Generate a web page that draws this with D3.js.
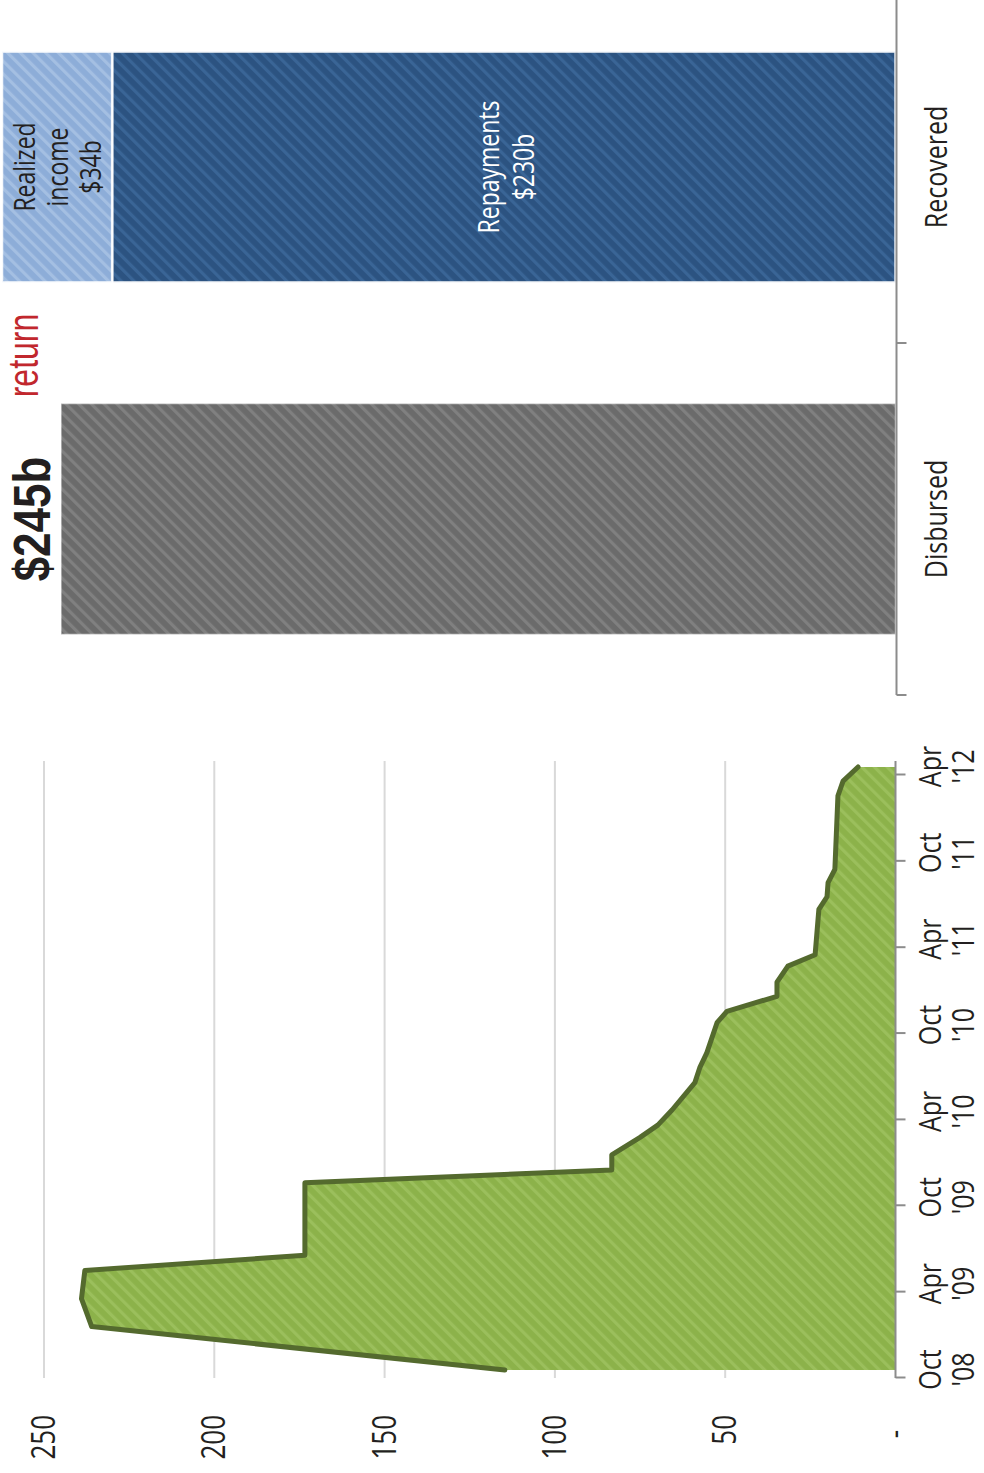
<!DOCTYPE html>
<html>
<head>
<meta charset="utf-8">
<script src="https://cdn.jsdelivr.net/npm/d3@7"></script>
<style>
  body { margin: 0; background: #fff; }
  svg { display: block; }
  text { font-family: "Open Sans", "Noto Sans", sans-serif; fill: #231f20; }
  text.headline { font-family: "Liberation Sans", Arial, sans-serif; }
</style>
</head>
<body>
<svg width="984" height="1473"></svg>
<script>
// --- data ---
var outstandingDates = ["2008-10-18", "2009-01-18", "2009-03-18", "2009-05-17", "2009-06-18",
  "2009-11-19", "2009-12-16", "2010-01-17", "2010-02-23", "2010-03-21", "2010-04-22",
  "2010-06-19", "2010-07-22", "2010-08-21", "2010-10-24", "2010-11-17", "2010-12-19",
  "2011-01-18", "2011-02-21", "2011-03-17", "2011-06-21", "2011-07-18", "2011-08-17",
  "2011-09-14", "2012-02-17", "2012-03-19", "2012-04-18"];
var outstandingValues = [114.7, 236.0, 239.0, 238.0, 173.4,
  173.4, 83.3, 83.3, 75.0, 69.8, 65.6,
  58.9, 57.4, 55.4, 52.4, 49.5, 34.8,
  34.8, 31.6, 23.6, 22.5, 20.1, 19.8,
  17.8, 16.9, 15.4, 11.0];

var timeTicks = ["2008-10-01", "2009-04-01", "2009-10-01", "2010-04-01", "2010-10-01", "2011-04-01", "2011-10-01", "2012-04-01"];
var timeTickLabels = [["Oct", "'08"], ["Apr", "'09"], ["Oct", "'09"], ["Apr", "'10"], ["Oct", "'10"], ["Apr", "'11"], ["Oct", "'11"], ["Apr", "'12"]];

var valueTicks = [0, 50, 100, 150, 200, 250];
var valueTickLabels = ["-", "50", "100", "150", "200", "250"];

var categories = ["Disbursed", "Recovered"];
var disbursedValue = 245;
var recoveredSeries = ["Repayments", "Realized income"];
var recoveredValues = [230, 34];
var recoveredLabels = [["Repayments", "$230b"], ["Realized", "income", "$34b"]];

var parse = d3.timeParse("%Y-%m-%d");
var S = 1.25; // text is stretched across its baseline in the picture

var svg = d3.select("svg");

// patterns (diagonal stripes)
var defs = svg.append("defs");
function hatch(id, base, stripe) {
  var p = defs.append("pattern").attr("id", id)
    .attr("patternUnits", "userSpaceOnUse")
    .attr("width", 9).attr("height", 9)
    .attr("patternTransform", "rotate(45)");
  p.append("rect").attr("width", 9).attr("height", 9).attr("fill", base);
  p.append("rect").attr("width", 3.2).attr("height", 9).attr("fill", stripe);
}
hatch("hGreen", "#8cb24a", "#9bbf5c");
hatch("hDark", "#2c5381", "#3a6596");
hatch("hLight", "#8dadd8", "#a4bfe2");
hatch("hGray", "#6b6b6b", "#808080");

// whole chart drawn in its own frame, turned a quarter to the left
var g = svg.append("g").attr("transform", "translate(0,1473) rotate(-90)");

var y = d3.scaleLinear().domain([0, 250]).range([895.5, 44]);
var xT = d3.scaleTime().domain([parse("2008-10-01"), parse("2012-04-01")]).range([95, 698]);
var xC = d3.scaleBand().domain(categories).range([778, 1482]).padding(0);
var plotRight = 712;

// --- left: outstanding over time ---
g.append("g").selectAll("line")
  .data(valueTicks.filter(function(d) { return d > 0; }))
  .enter().append("line")
  .attr("x1", xT.range()[0]).attr("x2", plotRight)
  .attr("y1", function(d) { return y(d); }).attr("y2", function(d) { return y(d); })
  .attr("stroke", "#d9d9d9").attr("stroke-width", 2);

var series = outstandingDates.map(function(d, i) { return {date: parse(d), value: outstandingValues[i]}; });

var area = d3.area()
  .x(function(d) { return xT(d.date); })
  .y0(y(0))
  .y1(function(d) { return y(d.value); });
var line = d3.line()
  .x(function(d) { return xT(d.date); })
  .y(function(d) { return y(d.value); });

g.append("path").datum(series).attr("d", area).attr("fill", "url(#hGreen)");
g.append("path").datum(series).attr("d", line)
  .attr("fill", "none").attr("stroke", "#546a2e").attr("stroke-width", 5)
  .attr("stroke-linejoin", "round").attr("stroke-linecap", "round");

// time axis
var tAxis = g.append("g").attr("transform", "translate(0," + y(0) + ")")
  .call(d3.axisBottom(xT).tickValues(timeTicks.map(parse)).tickSize(10).tickSizeOuter(0));
tAxis.select(".domain").remove();
tAxis.append("line").attr("x1", xT.range()[0]).attr("x2", plotRight)
  .attr("stroke", "#8c8c8c").attr("stroke-width", 2);
tAxis.selectAll(".tick line").attr("stroke", "#8c8c8c").attr("stroke-width", 2);
tAxis.selectAll(".tick text").each(function(d, i) {
  var t = d3.select(this).text(null)
    .attr("y", 36.5).attr("dy", null)
    .attr("transform", "scale(1," + S + ")")
    .style("font-size", "25px").style("fill", "#231f20");
  timeTickLabels[i].forEach(function(s, k) {
    t.append("tspan").attr("x", 8).attr("dy", k === 0 ? 0 : 26.5).text(s);
  });
});

// value axis labels
var vAxis = g.append("g").attr("transform", "translate(58,0)")
  .call(d3.axisLeft(y).tickValues(valueTicks).tickSize(0).tickPadding(0)
    .tickFormat(function(d, i) { return valueTickLabels[i]; }));
vAxis.select(".domain").remove();
vAxis.selectAll(".tick text")
  .attr("transform", "scale(1," + S + ")")
  .attr("dx", function(d) { return d === 0 ? -15 : 0; })
  .style("font-size", "26px").style("fill", "#231f20");

// --- right: disbursed vs recovered ---
var bw = xC.bandwidth() * 0.656;
function bx(c) { return xC(c) + (xC.bandwidth() - bw) / 2; }

g.append("rect")
  .attr("x", bx("Disbursed")).attr("width", bw)
  .attr("y", y(disbursedValue)).attr("height", y(0) - y(disbursedValue))
  .attr("fill", "url(#hGray)").attr("stroke", "#fff").attr("stroke-width", 1.5).attr("stroke-opacity", 0.5);

var stack = [];
var acc = 0;
recoveredValues.forEach(function(v, i) {
  stack.push({name: recoveredSeries[i], v0: acc, v1: acc + v, lines: recoveredLabels[i]});
  acc += v;
});
var fills = ["url(#hDark)", "url(#hLight)"];
var textFill = ["#fff", "#231f20"];

g.append("g").selectAll("rect").data(stack).enter().append("rect")
  .attr("x", bx("Recovered")).attr("width", bw)
  .attr("y", function(d) { return Math.max(y(d.v1), 2); })
  .attr("height", function(d) { return y(d.v0) - Math.max(y(d.v1), 2); })
  .attr("fill", function(d, i) { return fills[i]; })
  .attr("stroke", "#fff").attr("stroke-width", 2.5).attr("stroke-opacity", 0.9);

// labels inside the stacked bar
var cx = xC("Recovered") + xC.bandwidth() / 2;
stack.forEach(function(d, i) {
  var fs = 23, lh = i === 0 ? 35 : 33;
  var c = (y(d.v0) + Math.max(y(d.v1), 0)) / 2 + 2;
  d.lines.forEach(function(s, k) {
    var base = c - (d.lines.length - 1) / 2 * lh + k * lh + 0.36 * fs * S;
    g.append("text")
      .attr("transform", "translate(" + cx + "," + base + ") scale(1," + S + ")")
      .attr("text-anchor", "middle")
      .style("font-size", fs + "px")
      .style("fill", textFill[i])
      .text(s);
  });
});

// category axis
var cAxisY = 896.5;
g.append("line").attr("x1", xC.range()[0]).attr("x2", xC.range()[1])
  .attr("y1", cAxisY).attr("y2", cAxisY).attr("stroke", "#8c8c8c").attr("stroke-width", 2);
g.append("g").selectAll("line")
  .data(categories.map(function(c) { return xC(c); }).concat([xC.range()[1]]))
  .enter().append("line")
  .attr("x1", function(d) { return d; }).attr("x2", function(d) { return d; })
  .attr("y1", cAxisY).attr("y2", cAxisY + 10)
  .attr("stroke", "#8c8c8c").attr("stroke-width", 2);
g.append("g").selectAll("text").data(categories).enter().append("text")
  .attr("transform", function(d) { return "translate(" + (xC(d) + xC.bandwidth() / 2) + ",947) scale(1," + S + ")"; })
  .attr("text-anchor", "middle")
  .style("font-size", "25px")
  .text(function(d) { return d; });

// headline
g.append("text").attr("class", "headline")
  .attr("transform", "translate(" + (xC("Disbursed") + xC.bandwidth() / 2) + ",50) scale(1,1.17)")
  .attr("text-anchor", "middle")
  .style("font-size", "44px").style("font-weight", "bold")
  .text("$245b");
g.append("text").attr("class", "headline")
  .attr("transform", "translate(1117.5,38) scale(1,1.3)")
  .attr("text-anchor", "middle")
  .style("font-size", "32px").style("fill", "#c1272d")
  .text("return");
</script>
</body>
</html>
